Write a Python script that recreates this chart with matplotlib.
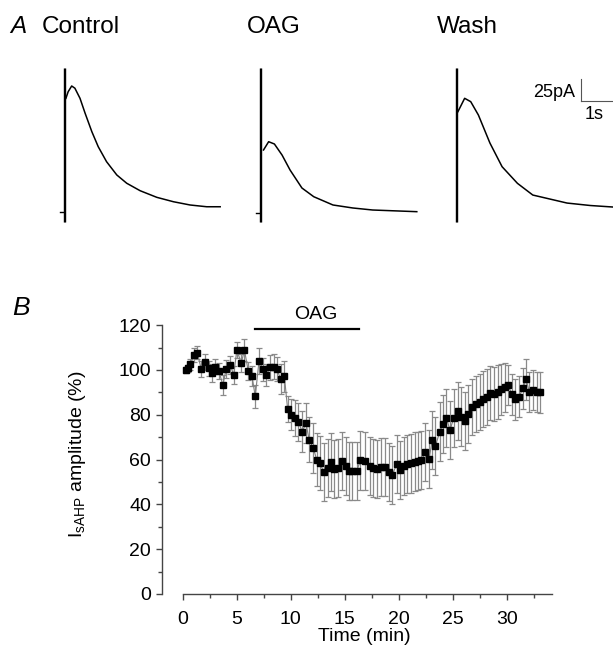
import matplotlib.pyplot as plt
from matplotlib.ticker import MultipleLocator

plt.rcParams['font.family'] = ['Liberation Sans', 'DejaVu Sans']
plt.rcParams['mathtext.fontset'] = 'custom'
plt.rcParams['mathtext.rm'] = 'Liberation Sans'
plt.rcParams['mathtext.it'] = 'Liberation Sans:italic'

# panel A: example sAHP currents (time from stimulus in s, current in pA)
trace_names = ['Control', 'OAG', 'Wash']
control_t = [0.06, 0.13, 0.24, 0.34, 0.50, 0.66, 0.87, 1.07, 1.33, 1.65, 1.96,
             2.38, 2.90, 3.42, 3.94, 4.46, 4.88]
control_i = [123.5, 131, 137.5, 135, 123.5, 106.5, 85.6, 68.5, 51.5, 36.4, 27,
             18.5, 11, 6, 2.3, 0.3, 0.3]
oag_t = [0.11, 0.27, 0.45, 0.69, 0.94, 1.31, 1.68, 2.28, 2.90, 3.52, 4.10, 4.90]
oag_i = [64.8, 74.2, 71.6, 59, 42, 21.6, 11.7, 2.3, -1.1, -3.4, -4.2, -5.3]
wash_t = [0.06, 0.27, 0.46, 0.70, 1.06, 1.44, 1.92, 2.40, 3.47, 4.20, 4.90]
wash_i = [108.3, 123.5, 119.7, 104.5, 72.7, 45.8, 26.9, 13.6, 4.5, 1.7, 0.0]
artifact_top = [158, 158, 158]
artifact_bottom = [-17, -17, -17]

# panel B: normalised IsAHP amplitude (mean +- SEM)
time_min = [0.31, 0.46, 0.70, 1.00, 1.33, 1.70, 2.06, 2.38, 2.71, 3.00, 3.33, 3.70,
            4.00, 4.40, 4.70, 5.00, 5.40, 5.70, 6.05, 6.40, 6.70, 7.05, 7.40, 7.70,
            8.10, 8.40, 8.70, 9.05, 9.40, 9.70, 10.03, 10.35, 10.70, 11.05, 11.40,
            11.70, 12.07, 12.40, 12.70, 13.05, 13.40, 13.70, 14.00, 14.40, 14.70,
            15.10, 15.40, 15.70, 16.10, 16.45, 16.90, 17.30, 17.65, 18.00, 18.40,
            18.70, 19.10, 19.40, 19.80, 20.10, 20.45, 20.80, 21.10, 21.50, 21.80,
            22.10, 22.45, 22.80, 23.10, 23.40, 23.80, 24.10, 24.40, 24.75, 25.10,
            25.50, 25.80, 26.10, 26.45, 26.80, 27.20, 27.50, 27.80, 28.20, 28.50,
            28.80, 29.20, 29.50, 29.80, 30.10, 30.50, 30.80, 31.15, 31.50, 31.80,
            32.10, 32.40, 32.80, 33.10]
amplitude = [100.0, 100.7, 102.5, 106.7, 107.7, 100.3, 103.7, 100.7, 98.5, 101.5,
             99.5, 93.3, 100.3, 102.2, 97.8, 109.0, 103.0, 109.0, 99.5, 97.3, 88.2,
             104.0, 100.3, 97.8, 101.2, 101.5, 100.4, 96.0, 97.2, 82.6, 80.0, 78.4,
             76.8, 72.5, 76.2, 68.8, 65.2, 60.0, 58.5, 54.3, 56.1, 58.8, 55.7, 56.1,
             59.5, 57.1, 54.9, 54.9, 54.9, 59.6, 59.4, 57.1, 56.1, 55.7, 56.6, 56.6,
             54.6, 53.1, 57.9, 55.4, 57.1, 58.0, 58.3, 59.1, 59.4, 59.8, 63.3, 60.1,
             68.6, 66.1, 72.5, 75.8, 78.7, 73.2, 78.7, 81.8, 79.2, 77.2, 80.4, 83.6,
             84.7, 85.9, 86.9, 87.8, 89.6, 89.3, 90.3, 91.4, 92.3, 93.3, 89.1, 86.9,
             88.1, 91.8, 95.8, 90.3, 91.1, 90.3, 90.0]
sem = [1.5, 1.5, 2.5, 3.0, 3.0, 3.5, 3.5, 3.5, 4.0, 3.5, 3.5, 4.5, 4.0, 4.0, 4.0,
       3.7, 4.0, 5.0, 4.0, 4.5, 5.0, 6.0, 5.0, 5.0, 5.5, 5.5, 5.5, 6.5, 7.0, 6.0,
       7.0, 8.0, 8.5, 9.0, 9.0, 10.0, 11.0, 12.0, 12.0, 13.0, 13.0, 13.0, 13.0, 13.0,
       13.0, 13.0, 13.0, 13.0, 13.0, 13.0, 13.0, 13.0, 13.0, 13.0, 13.0, 13.0, 13.0,
       13.0, 13.0, 13.0, 13.0, 13.0, 13.0, 13.0, 13.0, 13.0, 13.0, 13.0, 13.0, 13.0,
       13.0, 13.0, 13.0, 13.0, 13.0, 13.0, 13.0, 13.0, 13.0, 12.5, 12.5, 12.5, 12.5,
       12.5, 12.0, 12.0, 12.0, 11.5, 11.0, 9.0, 9.0, 9.0, 9.0, 9.0, 9.0, 9.0, 9.0,
       9.0, 9.0]
oag_period = (6.67, 16.3)

W, H = 613, 649
fig = plt.figure(figsize=(W / 100, H / 100), dpi=100)

# ---- panel A
axA = fig.add_axes([0, 1 - 260 / H, 1, 260 / H])
axA.set_xlim(0, W / 32)
axA.set_ylim(-60.2, 235.2)
axA.axis('off')
onsets = [2.0, 8.125, 14.25]
traces = [(control_t, control_i), (oag_t, oag_i), (wash_t, wash_i)]
pre_i = [-5.7, -6.8, None]
for k, (tt, ii) in enumerate(traces):
    t0 = onsets[k]
    axA.plot([t0 + x for x in tt], ii, color='black', lw=1.1)
    axA.vlines([t0, t0 + 0.04], artifact_bottom[k], artifact_top[k],
               color='black', lw=1.0)
    if pre_i[k] is not None:
        axA.plot([t0 - 0.12, t0], [pre_i[k], pre_i[k]], color='black', lw=1.0)

# scale bar
sx, sy = 18.16, 120
axA.plot([sx, sx], [sy, sy + 25], color='#555555', lw=0.8)
axA.plot([sx, sx + 1], [sy, sy], color='#555555', lw=0.8, clip_on=False)
axA.text(sx - 0.2, sy + 10, '25pA', ha='right', va='center', fontsize=13)
axA.text(sx + 0.4, sy - 5, '1s', ha='center', va='top', fontsize=13)

fig.text(10 / W, 1 - 33 / H, 'A', fontsize=17.5, style='italic', va='baseline')
for name, x in zip(trace_names, [42, 247, 437]):
    fig.text(x / W, 1 - 33 / H, name, fontsize=17.5, va='baseline')

# ---- panel B
left, right = 162, 552
bottom_px, top_px = 594, 314
ax = fig.add_axes([left / W, 1 - bottom_px / H, (right - left) / W,
                   (bottom_px - top_px) / H])
ax.errorbar(time_min, amplitude, yerr=sem, fmt='none', ecolor='#8a8a8a',
            elinewidth=0.9, capsize=2.4, capthick=0.9, zorder=1)
ax.plot(time_min, amplitude, color='#808080', lw=0.8, zorder=2)
ax.plot(time_min, amplitude, 's', color='black', ms=4.6, zorder=3)

ax.set_xlim(-1.94, 34.2)
ax.set_ylim(0, 125)
for s in ['top', 'right']:
    ax.spines[s].set_visible(False)
ax.spines['bottom'].set_bounds(0, 34.2)
ax.spines['left'].set_bounds(0, 120)
for s in ['bottom', 'left']:
    ax.spines[s].set_color('#444444')
    ax.spines[s].set_linewidth(1.0)
ax.set_xticks([0, 5, 10, 15, 20, 25, 30])
ax.xaxis.set_minor_locator(MultipleLocator(2.5))
ax.set_yticks(range(0, 121, 20))
ax.yaxis.set_minor_locator(MultipleLocator(10))
ax.tick_params(which='major', direction='out', length=4, width=1,
               color='#444444', labelsize=14)
ax.tick_params(which='minor', direction='out', length=3, width=1,
               color='#444444')
ax.tick_params(axis='x', pad=8)
ax.tick_params(axis='y', pad=4)

ax.plot(oag_period, [118.3, 118.3], color='black', lw=1.6, clip_on=False)
ax.text(12.3, 120.8, 'OAG', ha='center', va='bottom', fontsize=14)

ax.set_xlabel('Time (min)', fontsize=14)
ax.xaxis.set_label_coords(0.52, -0.12)
ax.set_ylabel(r'I$_{\mathrm{sAHP}}$ amplitude (%)', fontsize=14)
ax.yaxis.set_label_coords(-0.19, 0.5)

fig.text(12 / W, 1 - 315 / H, 'B', fontsize=19, style='italic', va='baseline')

fig.savefig('out.png', dpi=100)
